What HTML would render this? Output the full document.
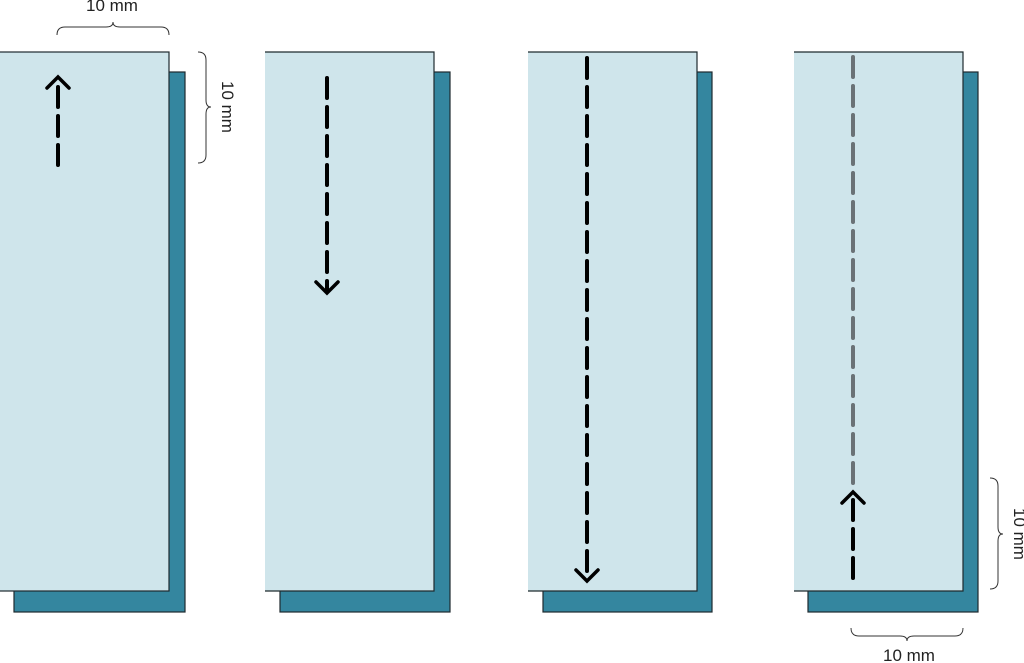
<!DOCTYPE html>
<html><head><style>body{margin:0;background:#fff}svg{display:block}</style></head><body>
<svg width="1024" height="663" viewBox="0 0 1024 663" xmlns="http://www.w3.org/2000/svg" font-family="Liberation Sans, sans-serif">
<g stroke="#1e2a2e" stroke-width="1.2">
<rect x="14" y="72" width="171" height="540" fill="#34869f"/>
<rect x="-2" y="52" width="171" height="539" fill="#cfe5eb"/>
<rect x="280" y="72" width="170" height="540" fill="#34869f"/>
<rect x="265" y="52" width="169" height="539" fill="#cfe5eb" stroke-width="0"/>
<path d="M265 52H434V591H265" fill="none"/>
<rect x="543" y="72" width="169" height="540" fill="#34869f"/>
<rect x="528" y="52" width="169" height="539" fill="#cfe5eb" stroke-width="0"/>
<path d="M528 52H697V591H528" fill="none"/>
<rect x="808" y="72" width="170" height="540" fill="#34869f"/>
<rect x="794" y="52" width="169" height="539" fill="#cfe5eb" stroke-width="0"/>
<path d="M794 52H963V591H794" fill="none"/>
</g>
<g fill="none" stroke-linecap="round" stroke-width="4">
<path d="M58 165V80" stroke="#000" stroke-dasharray="20 9"/>
<path d="M47 88L58 77L69 88" stroke="#000" stroke-width="3.5"/>
<path d="M327 78V292" stroke="#000" stroke-dasharray="20 9"/>
<path d="M316 282L327 293L338 282" stroke="#000" stroke-width="3.5"/>
<path d="M587 58V580" stroke="#000" stroke-dasharray="20 9"/>
<path d="M576 570L587 581L598 570" stroke="#000" stroke-width="3.5"/>
<path d="M853 57V490" stroke="#6a7276" stroke-dasharray="20 9"/>
<path d="M853 578V495" stroke="#000" stroke-dasharray="20 9"/>
<path d="M842 503L853 492L864 503" stroke="#000" stroke-width="3.5"/>
</g>
<g fill="none" stroke="#333" stroke-width="1">
<path d="M57 35Q57 27 65 27H106Q113 27 113 22Q113 27 120 27H161Q169 27 169 35"/>
<path d="M198 52Q206 52 206 60V100Q206 107 211 107Q206 107 206 114V155Q206 163 198 163"/>
<path d="M990 478Q998 478 998 486V527Q998 534 1003 534Q998 534 998 541V581Q998 589 990 589"/>
<path d="M851 628Q851 636 859 636H900Q907 636 907 641Q907 636 914 636H955Q963 636 963 628"/>
</g>
<g font-size="17" fill="#222">
<text x="112" y="11" text-anchor="middle">10 mm</text>
<text x="909" y="661" text-anchor="middle">10 mm</text>
<text transform="translate(222,107) rotate(90)" text-anchor="middle">10 mm</text>
<text transform="translate(1014,534) rotate(90)" text-anchor="middle">10 mm</text>
</g>
</svg>
</body></html>
